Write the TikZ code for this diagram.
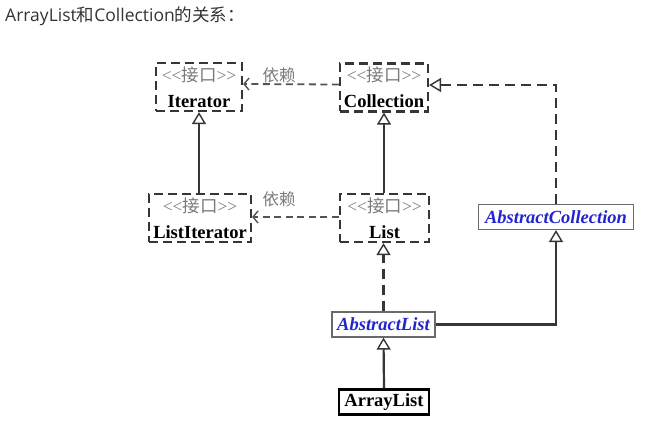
\documentclass[tikz,border=0pt]{standalone}
\usepackage{fontspec}
\setmainfont{Liberation Serif}
\newfontfamily\cjk{Noto Sans CJK SC}
\newfontfamily\titlefont{Open Sans}
\usetikzlibrary{arrows.meta}
\definecolor{lineg}{HTML}{363636}
\definecolor{stereog}{HTML}{7A7A7A}
\definecolor{absblue}{HTML}{2424CC}
\definecolor{absborder}{HTML}{6A6A6A}
\definecolor{titleg}{HTML}{333333}
\newcommand{\stereotxt}{{\mdseries\color{stereog}\fontsize{17.5}{26}\selectfont {<}{<}{\cjk 接口}{>}{>}}}
\begin{document}
\begin{tikzpicture}[x=1pt,y=-1pt,
  iface/.style={draw=lineg, line width=2.2pt, dash pattern=on 9pt off 5pt,
    minimum width=#1, minimum height=48pt, inner sep=0pt, align=center,
    font=\fontsize{18.5}{26}\selectfont\bfseries},
  abscls/.style={draw=absborder, line width=1.2pt, minimum width=#1, minimum height=25pt,
    inner sep=0pt, text=absblue, font=\fontsize{18.5}{22}\selectfont\bfseries\itshape},
  conccls/.style={draw=black, line width=2.2pt, minimum width=#1, minimum height=25pt,
    inner sep=0pt, font=\fontsize{18.5}{22}\selectfont\bfseries},
  inherit/.style={draw=lineg, line width=2.2pt,
    -{Triangle[open, length=12pt, width=14pt, line width=1.4pt]}},
  realize/.style={inherit, dash pattern=on 10pt off 6pt},
  depend/.style={draw=lineg!85, line width=1.8pt, dash pattern=on 7pt off 4.5pt,
    -{Straight Barb[length=5pt, width=12pt, line width=1.4pt]}},
  deplabel/.style={text=stereog, font=\cjk\fontsize{16.5}{20}\selectfont, inner sep=0pt},
  titletext/.style={text=titleg, anchor=base west, inner sep=0pt, font=\titlefont\fontsize{17.5}{20}\selectfont}
]
\useasboundingbox (0,0) rectangle (649,433);

\node[titletext] (title) at (5,22) {ArrayList{\cjk 和}Collection{\cjk 的关系：}};

\node[iface=86pt] (iter) at (199,87) {\stereotxt\\Iterator};
\node[iface=88pt] (coll) at (384,87.5) {\stereotxt\\Collection};
\node[iface=102pt] (liter) at (200,218) {\stereotxt\\ListIterator};
\node[iface=89pt] (list) at (384.5,218) {\stereotxt\\List};
\node[abscls=155pt] (acoll) at (556,217) {AbstractCollection};
\node[abscls=103pt] (alist) at (383.5,324.5) {AbstractList};
\node[conccls=90pt] (alst) at (384,402) {ArrayList};

\node[deplabel] (dep1) at (279,75) {依赖};
\node[deplabel] (dep2) at (279,199) {依赖};

\draw[depend] ([yshift=3pt]coll.west) -- ([yshift=3pt]iter.east);
\draw[depend] ([yshift=1pt]list.west) -- ([yshift=1pt]liter.east);

\draw[inherit] (liter.north -| iter.south) -- (iter.south);
\draw[inherit] (list.north -| coll.south) -- (coll.south);
\draw[realize] (alist.north) -- (alist.north |- list.south);
\draw[inherit] (alst.north) -- (alist.south);
\draw[inherit] (alist.east) -- (alist.east -| acoll.south) -- (acoll.south);
\draw[realize] (acoll.north) -- (acoll.north |- 0,85) -- (coll.east |- 0,85);
\end{tikzpicture}
\end{document}
